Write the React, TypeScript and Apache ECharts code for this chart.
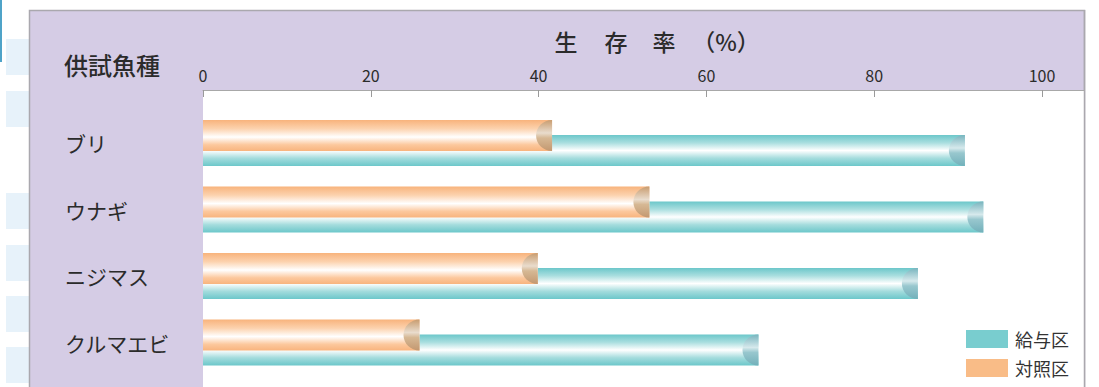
import React, { useEffect, useRef } from 'react';
import * as echarts from 'echarts';

const categories = ['ブリ', 'ウナギ', 'ニジマス', 'クルマエビ'];
const feedValues = [90.8, 93.0, 85.2, 66.2]; // 給与区
const controlValues = [41.6, 53.2, 39.9, 25.8]; // 対照区
const seriesNames = ['給与区', '対照区'];
const titleParts = ['生', '存', '率', '（%）'];
const titleCenters = [566, 616, 664, 726];
const rowHeader = '供試魚種';

const FONT = '"Noto Sans CJK JP", "Noto Sans", sans-serif';

const tealBar = () =>
  new echarts.graphic.LinearGradient(0, 0, 0, 1, [
    { offset: 0, color: '#6cc7ca' },
    { offset: 0.25, color: '#a9dedf' },
    { offset: 0.5, color: '#ffffff' },
    { offset: 0.75, color: '#a4dcdd' },
    { offset: 1, color: '#6cc7ca' },
  ]);
const orangeBar = () =>
  new echarts.graphic.LinearGradient(0, 0, 0, 1, [
    { offset: 0, color: '#f8b37c' },
    { offset: 0.28, color: '#fcd2ae' },
    { offset: 0.55, color: '#ffffff' },
    { offset: 0.8, color: '#fcc89d' },
    { offset: 1, color: '#f8b47e' },
  ]);
const tealCap = () =>
  new echarts.graphic.LinearGradient(0, 0, 0, 1, [
    { offset: 0, color: '#78b4be' },
    { offset: 0.42, color: '#d6e9ec' },
    { offset: 0.58, color: '#98c7ce' },
    { offset: 1, color: '#72b0ba' },
  ]);
const orangeCap = () =>
  new echarts.graphic.LinearGradient(0, 0, 0, 1, [
    { offset: 0, color: '#c89c6f' },
    { offset: 0.42, color: '#e9dccd' },
    { offset: 0.58, color: '#d6b894' },
    { offset: 1, color: '#c39870' },
  ]);

function makeRender(offset: number, barFill: () => any, capFill: () => any) {
  return (params: any, api: any) => {
    const cat = api.value(1);
    const v = api.value(0);
    const p0 = api.coord([0, cat]);
    const p1 = api.coord([v, cat]);
    const h = 31;
    const cy = p0[1] + offset;
    const top = cy - h / 2;
    const bot = cy + h / 2;
    const ex = p1[0];
    const rx = 16;
    const ry = h / 2;
    const k = 0.5523;
    const d =
      `M${ex} ${top} C${ex - k * rx} ${top} ${ex - rx} ${cy - k * ry} ${ex - rx} ${cy} ` +
      `C${ex - rx} ${cy + k * ry} ${ex - k * rx} ${bot} ${ex} ${bot} Z`;
    return {
      type: 'group',
      children: [
        {
          type: 'rect',
          shape: { x: p0[0], y: top, width: ex - p0[0], height: h },
          style: { fill: barFill() },
        },
        {
          type: 'path',
          shape: { pathData: d },
          style: { fill: capFill() },
        },
      ],
    };
  };
}

export default function App() {
  const ref = useRef<HTMLDivElement>(null);
  useEffect(() => {
    if (!ref.current) return;
    const chart = echarts.init(ref.current, undefined, { renderer: 'svg' });
    const decoRects = [39, 91, 193, 245, 296, 347].map((y) => ({
      type: 'rect',
      z: -20,
      shape: { x: 6, y, width: 24, height: 36 },
      style: { fill: '#e7f2fa' },
    }));
    const titleTexts = titleParts.map((t, i) => ({
      type: 'text',
      z: 10,
      x: titleCenters[i],
      y: 41,
      style: {
        text: t,
        fontSize: 23,
        fontWeight: 500,
        fontFamily: FONT,
        fill: '#2b2b2b',
        align: 'center',
        verticalAlign: 'middle',
      },
    }));
    chart.setOption({
      animation: false,
      textStyle: { fontFamily: FONT },
      graphic: [
        {
          type: 'line',
          z: -20,
          shape: { x1: 1, y1: 0, x2: 1, y2: 62 },
          style: { stroke: '#4fa3c8', lineWidth: 2 },
        },
        ...decoRects,
        {
          type: 'rect',
          z: -15,
          shape: { x: 29.5, y: 10.5, width: 1055, height: 400 },
          style: { fill: '#d5cce5', stroke: '#aaa8ae', lineWidth: 1.5 },
        },
        {
          type: 'rect',
          z: -12,
          shape: { x: 203, y: 90, width: 881, height: 310 },
          style: { fill: '#ffffff' },
        },
        {
          type: 'line',
          z: -11,
          shape: { x1: 1084.5, y1: 10, x2: 1084.5, y2: 400 },
          style: { stroke: '#aaa8ae', lineWidth: 1.5 },
        },
        ...titleTexts,
        {
          type: 'text',
          z: 10,
          x: 64,
          y: 64,
          style: {
            text: rowHeader,
            fontSize: 24,
            fontWeight: 500,
            fontFamily: FONT,
            fill: '#2b2b2b',
            align: 'left',
            verticalAlign: 'middle',
          },
        },
      ],
      legend: {
        orient: 'vertical',
        left: 966,
        top: 330,
        padding: 0,
        itemWidth: 42,
        itemHeight: 18,
        itemGap: 11,
        icon: 'rect',
        data: seriesNames,
        textStyle: { fontSize: 18, color: '#333', fontFamily: FONT, lineHeight: 18, padding: [0, 0, 0, 2] },
      },
      grid: { left: 203, right: 15, top: 109.75, bottom: 11.25, containLabel: false },
      xAxis: {
        type: 'value',
        position: 'top',
        min: 0,
        max: 105,
        interval: 20,
        offset: 19.75,
        axisLine: { show: true, lineStyle: { color: '#a8a8a8', width: 1 } },
        axisTick: { show: true, inside: true, length: 7, lineStyle: { color: '#9a9a9a' } },
        axisLabel: { showMaxLabel: false, fontSize: 16, color: '#2b2b2b', margin: 7, fontFamily: FONT },
        splitLine: { show: false },
      },
      yAxis: {
        type: 'category',
        data: categories,
        inverse: true,
        axisLine: { show: false },
        axisTick: { show: false },
        splitLine: { show: false },
        axisLabel: { align: 'left', margin: 138, fontSize: 21, color: '#2b2b2b', fontFamily: FONT },
      },
      series: [
        {
          name: seriesNames[0],
          type: 'custom',
          itemStyle: { color: '#79cdcf' },
          encode: { x: 0, y: 1 },
          data: feedValues.map((v, i) => [v, i]),
          renderItem: makeRender(7.5, tealBar, tealCap),
        },
        {
          name: seriesNames[1],
          type: 'custom',
          itemStyle: { color: '#f9bc87' },
          encode: { x: 0, y: 1 },
          data: controlValues.map((v, i) => [v, i]),
          renderItem: makeRender(-7.5, orangeBar, orangeCap),
        },
      ],
    });
    return () => chart.dispose();
  }, []);
  return <div ref={ref} style={{ position: 'absolute', left: 0, top: 0, width: 1099, height: 387 }} />;
}
